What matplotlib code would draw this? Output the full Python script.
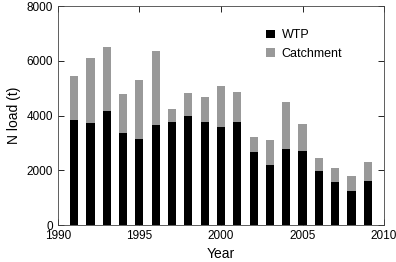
import numpy as np
import matplotlib
matplotlib.use("Agg")
import matplotlib.pyplot as plt

plt.rcParams['font.family'] = ['Liberation Sans', 'DejaVu Sans']

years = np.arange(1991, 2010)
wtp = [3850, 3730, 4170, 3370, 3140, 3670, 3770, 3980, 3760, 3590,
       3760, 2660, 2180, 2770, 2710, 1970, 1570, 1240, 1610]
total = [5440, 6090, 6520, 4780, 5300, 6360, 4240, 4820, 4680, 5080,
         4850, 3220, 3110, 4500, 3690, 2450, 2100, 1800, 2300]
catchment = [t - w for t, w in zip(total, wtp)]

fig = plt.figure(figsize=(3.96, 2.62), dpi=100)
ax = fig.add_axes([0.146, 0.141, 0.824, 0.836])

ax.bar(years, wtp, width=0.5, color='black', label='WTP')
ax.bar(years, catchment, width=0.5, bottom=wtp, color='#999999', label='Catchment')

ax.set_xlim(1990, 2010)
ax.set_ylim(0, 8000)
ax.set_xticks(np.arange(1990, 2011, 5))
ax.set_yticks(np.arange(0, 8001, 2000))
ax.tick_params(direction='in', top=True, right=True, labelsize=8.5, length=4, width=0.6)
for s in ax.spines.values():
    s.set_linewidth(0.6)
    s.set_color('#444444')

ax.set_xlabel('Year', fontsize=10)
ax.set_ylabel('N load (t)', fontsize=10)
ax.legend(loc='upper left', bbox_to_anchor=(0.605, 0.945), frameon=False, fontsize=9,
          handlelength=0.7, handleheight=0.7, handletextpad=0.5, labelspacing=0.5)

fig.savefig('out.png', dpi=100)
